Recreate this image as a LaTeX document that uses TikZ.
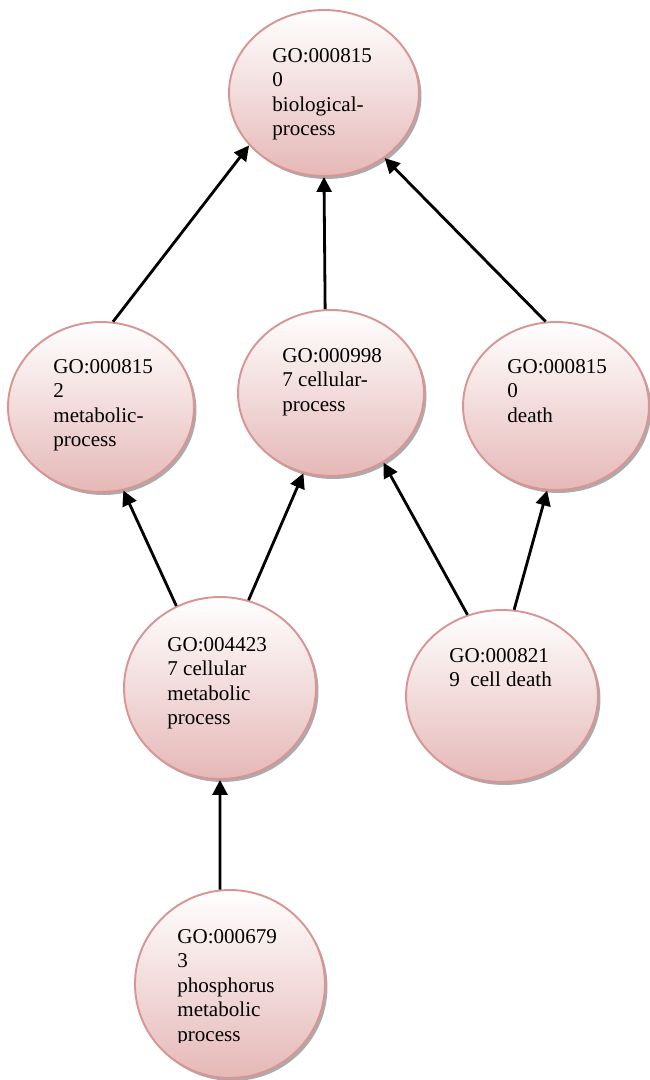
\documentclass[tikz,border=0pt]{standalone}
\usepackage{fontspec}
\setmainfont{Liberation Serif}
\usepackage{xcolor}
\usepackage{tikz}
\usetikzlibrary{shapes.geometric, arrows.meta, shadows}

\definecolor{termline}{HTML}{D99594}
\definecolor{termfill}{HTML}{E5B8B7}

\begin{document}
\begin{tikzpicture}[x=0.02cm, y=-0.02cm,
  term/.style={ellipse, draw=termline, line width=1.1pt, inner sep=0pt,
    top color=white, bottom color=termfill,
    drop shadow={shadow xshift=0.5mm, shadow yshift=-0.6mm, fill=black!55, opacity=0.6}},
  lbl/.style={anchor=north west, align=left, inner sep=0pt, font=\fontsize{12}{13.9}\selectfont},
  isa/.style={-{Triangle[length=8.5pt, width=8.5pt]}, line width=1.6pt}]
\useasboundingbox (0,0) rectangle (650,1080);

% GO terms
\node[term, minimum width=38mm, minimum height=33.2mm] (bio) at (324,93) {};
\node[term, minimum width=37.2mm, minimum height=34mm] (met) at (101,407) {};
\node[term, minimum width=37.2mm, minimum height=33.2mm] (cel) at (331,393) {};
\node[term, minimum width=37.2mm, minimum height=33.6mm] (dea) at (556,406) {};
\node[term, minimum width=38.4mm, minimum height=36.4mm] (cm) at (220,688) {};
\node[term, minimum width=38.4mm, minimum height=34.4mm] (cd) at (502,696) {};
\node[term, minimum width=38mm, minimum height=37.6mm] (phos) at (230,984) {};

% labels
\node[lbl] (bio-t) at (272,48) {GO:000815\\0\\biological-\\process};
\node[lbl] (met-t) at (53,359) {GO:000815\\2\\metabolic-\\process};
\node[lbl] (cel-t) at (282,348) {GO:000998\\7 cellular-\\process};
\node[lbl] (dea-t) at (507,359) {GO:000815\\0\\death};
\node[lbl] (cm-t) at (167,637) {GO:004423\\7 cellular\\metabolic\\process};
\node[lbl] (cd-t) at (449,648) {GO:000821\\9~ cell death};
\begin{scope}
\clip (150,900) rectangle (320,1042);
\node[lbl] (phos-t) at (177,929) {GO:000679\\3\\phosphorus\\metabolic\\process};
\end{scope}

% is-a arrows
\foreach \from/\to in {met.82/bio.215, cel.94/bio.270, dea.97/bio.313,
    cm.118/met.285, cm.72/cel.251, cd.113/cel.307, cd.82/dea.264, phos.96/cm.270} {
    \draw[isa] (\from) -- (\to);
}
\end{tikzpicture}
\end{document}
